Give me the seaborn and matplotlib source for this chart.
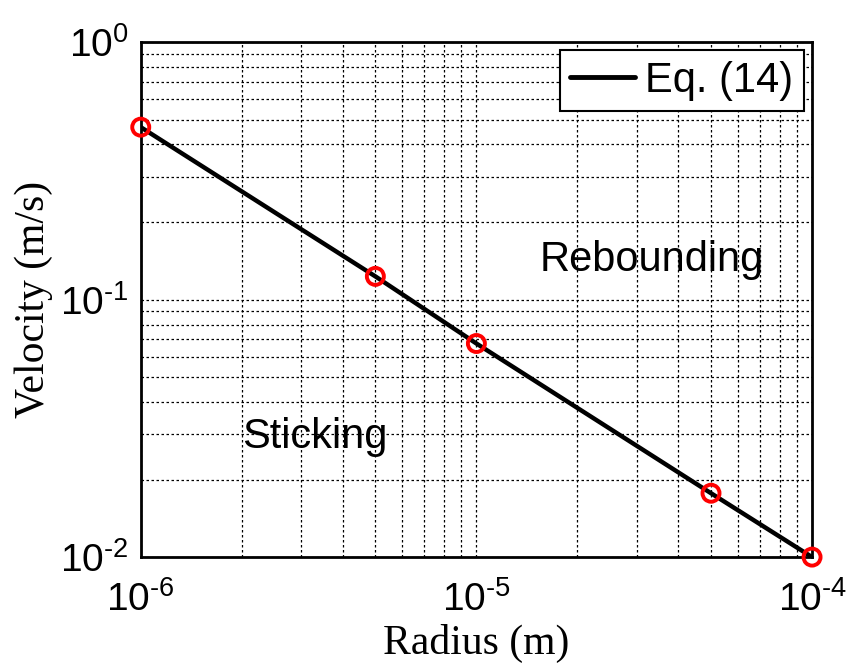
import numpy as np
import pandas as pd
import matplotlib
matplotlib.use("Agg")
import matplotlib.pyplot as plt
import seaborn as sns
from matplotlib.ticker import LogLocator, FixedLocator, FixedFormatter

# Critical sticking velocity vs. particle radius
radius = [1e-6, 5e-6, 1e-5, 5e-5, 1e-4]
velocity = [0.467, 0.123, 0.0675, 0.0177, 0.0100]

x_ticks = [1e-6, 1e-5, 1e-4]
x_labels = [r"$\mathregular{10^{\text{-}6}}$", r"$\mathregular{10^{\text{-}5}}$",
            r"$\mathregular{10^{\text{-}4}}$"]
y_ticks = [1e-2, 1e-1, 1e0]
y_labels = [r"$\mathregular{10^{\text{-}2}}$", r"$\mathregular{10^{\text{-}1}}$",
            r"$\mathregular{10^{0}}$"]

df = pd.DataFrame({"Radius": radius, "Velocity": velocity})

sns.set_theme(style="white")
plt.rcParams["font.family"] = ["Liberation Sans", "DejaVu Sans"]
plt.rcParams["mathtext.fontset"] = "custom"
plt.rcParams["mathtext.rm"] = "Liberation Sans"
for key in ["text.color", "axes.labelcolor", "xtick.color", "ytick.color"]:
    plt.rcParams[key] = "black"

fig = plt.figure(figsize=(8.53, 6.72), dpi=100)
ax = fig.add_axes([0.165, 0.171, 0.787, 0.7665])

sns.lineplot(data=df, x="Radius", y="Velocity", ax=ax, color="black",
             linewidth=3.2, label="Eq. (14)", zorder=3)
sns.scatterplot(data=df, x="Radius", y="Velocity", ax=ax, marker="o",
                s=150, facecolors="none", edgecolors="red", linewidth=2.8,
                zorder=4, legend=False, clip_on=False)

ax.set_xscale("log")
ax.set_yscale("log")
ax.set_xlim(1e-6, 1e-4)
ax.set_ylim(1e-2, 1e0)

ax.xaxis.set_major_locator(FixedLocator(x_ticks))
ax.xaxis.set_major_formatter(FixedFormatter(x_labels))
ax.yaxis.set_major_locator(FixedLocator(y_ticks))
ax.yaxis.set_major_formatter(FixedFormatter(y_labels))
ax.xaxis.set_minor_locator(LogLocator(base=10, subs=np.arange(2, 10)))
ax.yaxis.set_minor_locator(LogLocator(base=10, subs=np.arange(2, 10)))
ax.xaxis.set_minor_formatter(plt.NullFormatter())
ax.yaxis.set_minor_formatter(plt.NullFormatter())

ax.grid(True, which="both", linestyle=(0, (2, 2)), color="black", linewidth=0.9)
ax.tick_params(axis="both", which="both", length=0, labelsize=28)
ax.tick_params(axis="x", pad=17)
ax.tick_params(axis="y", pad=9)
for s in ax.spines.values():
    s.set_color("black")
    s.set_linewidth(2)

ax.set_xlabel("Radius (m)", fontsize=30, family="Liberation Serif", labelpad=4)
ax.set_ylabel("Velocity (m/s)", fontsize=30, family="Liberation Serif", labelpad=5)

ax.text(3.32e-5, 0.129, "Rebounding", fontsize=30, ha="center", va="baseline")
ax.text(3.3e-6, 0.0265, "Sticking", fontsize=30, ha="center", va="baseline")

leg = ax.legend(loc="upper right", fontsize=30, frameon=True, fancybox=False,
                edgecolor="black", handlelength=1.55, handletextpad=0.25,
                borderpad=0.25, borderaxespad=0.2)
leg.get_frame().set_linewidth(1.5)
leg.get_frame().set_alpha(1)
for h in leg.get_lines():
    h.set_linewidth(3.5)

fig.savefig("out.png", dpi=100, facecolor="white")
